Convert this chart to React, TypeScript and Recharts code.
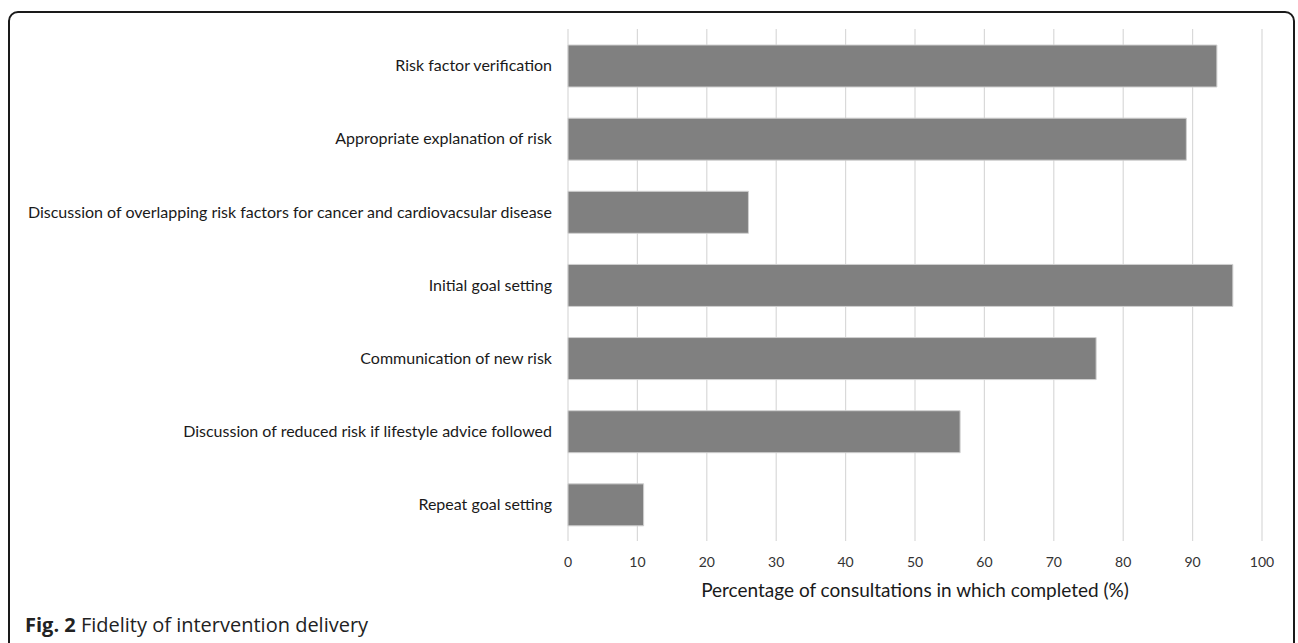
import React from 'react';
import { BarChart, Bar, XAxis, YAxis, CartesianGrid } from 'recharts';

const categories = [
  'Risk factor verification',
  'Appropriate explanation of risk',
  'Discussion of overlapping risk factors for cancer and cardiovacsular disease',
  'Initial goal setting',
  'Communication of new risk',
  'Discussion of reduced risk if lifestyle advice followed',
  'Repeat goal setting',
];
const values = [93.5, 89.1, 26.0, 95.8, 76.1, 56.5, 10.9];
const xTicks = [0, 10, 20, 30, 40, 50, 60, 70, 80, 90, 100];
const axisTitle = 'Percentage of consultations in which completed (%)';

const data = categories.map((name, i) => ({ name, value: values[i] }));

export default function App() {
  return (
    <div style={{ position: 'absolute', left: 0, top: 0, width: 1298, height: 643, background: '#fff', overflow: 'hidden' }}>
      <div
        style={{
          position: 'absolute',
          left: 8,
          top: 11,
          width: 1283,
          height: 700,
          border: '2px solid #1a1a1a',
          borderRadius: 10,
        }}
      />
      <div style={{ position: 'absolute', left: 0, top: 0 }}>
        <BarChart
          width={1298}
          height={643}
          data={data}
          layout="vertical"
          margin={{ top: 29, right: 36, bottom: 0, left: 0 }}
          barSize={42}
        >
          <CartesianGrid horizontal={false} vertical={true} stroke="#d9d9d9" strokeWidth={1.2} />
          <XAxis
            type="number"
            domain={[0, 100]}
            ticks={xTicks}
            axisLine={false}
            tickLine={false}
            tickSize={0}
            tickMargin={16}
            height={102}
            interval={0}
            tick={{ fontFamily: 'Lato', fontSize: 14, fill: '#333' }}
            label={{
              value: axisTitle,
              position: 'insideTop',
              offset: 43,
              style: { fontFamily: 'Lato', fontSize: 19, fill: '#1a1a1a' },
            }}
          />
          <YAxis
            type="category"
            dataKey="name"
            width={568}
            axisLine={false}
            tickLine={false}
            tickSize={0}
            tickMargin={16}
            interval={0}
            tick={{ fontFamily: 'Lato', fontSize: 16, fill: '#1a1a1a' }}
          />
          <Bar dataKey="value" fill="#808080" stroke="#d0d0d0" strokeWidth={1} isAnimationActive={false} />
        </BarChart>
      </div>
      <div
        style={{
          position: 'absolute',
          left: 25,
          top: 615,
          fontFamily: '"Open Sans"',
          fontSize: 20,
          lineHeight: '20px',
          color: '#222',
          whiteSpace: 'nowrap',
        }}
      >
        <b>Fig. 2</b> Fidelity of intervention delivery
      </div>
    </div>
  );
}
